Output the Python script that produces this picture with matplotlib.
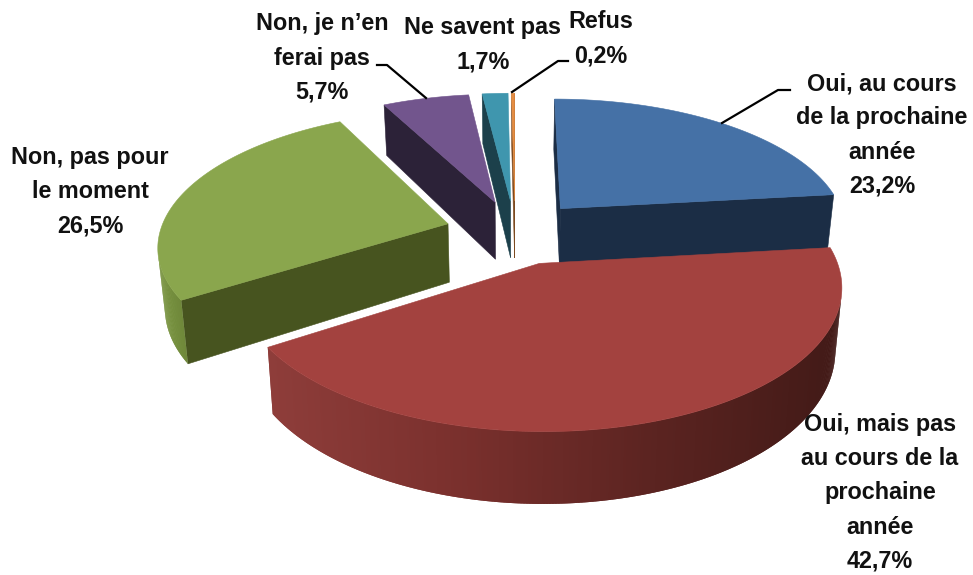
import numpy as np
import matplotlib
matplotlib.use("Agg")
import matplotlib.pyplot as plt
from matplotlib.colors import LinearSegmentedColormap
from matplotlib.patches import Polygon

# Values
labels = [
    "Oui, au cours\nde la prochaine\nannée\n23,2%",
    "Oui, mais pas\nau cours de la\nprochaine\nannée\n42,7%",
    "Non, pas pour\nle moment\n26,5%",
    "Non, je n’en\nferai pas\n5,7%",
    "Ne savent pas\n1,7%",
    "Refus\n0,2%",
]
shares = [23.2, 42.7, 26.5, 5.7, 1.7, 0.2]
top_colors = ["#4571a6", "#a3423f", "#8aa64d", "#72558d", "#3f96ae", "#e58d42"]
side_colors = ["#1b2d45", "#6e2b28", "#47541f", "#2c2238", "#1c404b", "#7c4a20"]
wall_colors = [
    ["#1b2d45", "#1b2d45"],
    ["#8e3d3a", "#7a302d", "#5c2421", "#421a17"],
    ["#7b9642", "#6f883a"],
    ["#2c2238", "#2c2238"],
    ["#1c404b", "#1c404b"],
    ["#7c4a20", "#7c4a20"],
]
label_pos = [(882, 135), (880, 493), (90, 192), (322, 58), (483, 45), (601, 39)]
leaders = [
    [(722, 123), (778, 90), (790, 90)],
    None,
    None,
    [(426, 98), (387, 65), (377, 65)],
    None,
    [(512, 92), (558, 61), (568, 61)],
]
draw_order = [0, 5, 4, 3, 2, 1]

# Projection of the tilted pie, in image pixels
CX, CY = 515, 232
RADIUS = 288
TILT = 0.46
PERSP = 0.15
EXPLODE = 0.243
DEPTH = 59
FOOT_SHRINK = 0.98


def project(x, y, bottom=False):
    w = 1 + PERSP * y
    sx = CX + RADIUS * x / w
    sy = CY - RADIUS * TILT * y / w
    if bottom:
        sx = CX + (sx - CX) * FOOT_SHRINK
        sy = sy + DEPTH / w
    return np.column_stack([sx, sy])


def area(pts):
    x, y = pts[:, 0], pts[:, 1]
    return 0.5 * np.sum(x * np.roll(y, -1) - np.roll(x, -1) * y)


fig, ax = plt.subplots(figsize=(9.73, 5.75), dpi=100)
ax.set_position([0, 0, 1, 1])
ax.set_xlim(0, 973)
ax.set_ylim(575, 0)
ax.axis("off")

edges = np.cumsum([0] + shares) / 100 * 2 * np.pi
for order, i in enumerate(draw_order):
    start, end = edges[i], edges[i + 1]
    mid = (start + end) / 2
    ox, oy = EXPLODE * np.sin(mid), EXPLODE * np.cos(mid)
    theta = np.linspace(start, end, max(int((end - start) * 120), 3))
    rim_x = ox + np.sin(theta)
    rim_y = oy + np.cos(theta)
    rim_top = project(rim_x, rim_y)
    rim_bot = project(rim_x, rim_y, bottom=True)
    apex_top = project(np.array([ox]), np.array([oy]))
    apex_bot = project(np.array([ox]), np.array([oy]), bottom=True)
    base_z = 10 * (order + 1)

    # the two cut faces, only where they turn toward the viewer
    face_a = np.vstack([apex_top, rim_top[:1], rim_bot[:1], apex_bot])
    face_b = np.vstack([rim_top[-1:], apex_top, apex_bot, rim_bot[-1:]])
    for face in (face_a, face_b):
        if area(face) < 0:
            ax.add_patch(Polygon(face, closed=True, facecolor=side_colors[i], edgecolor=side_colors[i],
                                 linewidth=0.4, zorder=base_z))

    # outer wall, shaded along its length; each piece overlaps the next so no seams show
    cmap = LinearSegmentedColormap.from_list("wall", wall_colors[i])
    steps = [k for k in range(len(theta) - 1)
             if area(np.vstack([rim_top[k], rim_top[k + 1], rim_bot[k + 1], rim_bot[k]])) < 0]
    xs = [rim_top[k, 0] for k in steps]
    for k, qx in zip(steps, xs):
        last = min(k + 3, len(theta))
        quad = np.vstack([rim_top[k:last], rim_bot[k:last][::-1]])
        frac = (qx - min(xs)) / max(max(xs) - min(xs), 1)
        ax.add_patch(Polygon(quad, closed=True, facecolor=cmap(frac), edgecolor="none",
                             zorder=base_z + 1 + (k / len(theta)) * 0.5))

    # top face
    top = np.vstack([apex_top, rim_top])
    ax.add_patch(Polygon(top, closed=True, facecolor=top_colors[i], edgecolor=top_colors[i],
                         linewidth=0.4, zorder=base_z + 2))

for text, pos, line in zip(labels, label_pos, leaders):
    ax.text(pos[0], pos[1], text, ha="center", va="center", fontsize=16.8, fontweight="bold",
            family="Liberation Sans", color="#111111", linespacing=1.62, zorder=200)
    if line:
        ax.plot([p[0] for p in line], [p[1] for p in line], color="black", linewidth=1.6, zorder=150)

fig.savefig("out.png", dpi=100, facecolor="white")
